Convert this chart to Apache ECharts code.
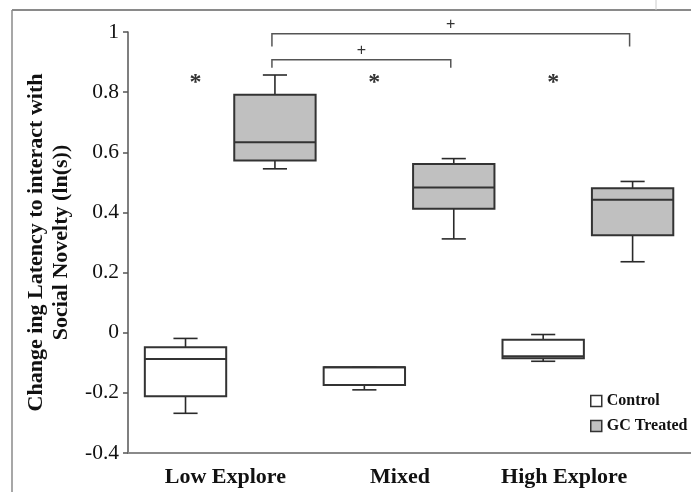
<!DOCTYPE html>
<html><head><meta charset="utf-8">
<script src="https://cdn.jsdelivr.net/npm/echarts@6/dist/echarts.min.js"></script>
<style>html,body{margin:0;padding:0;background:#fff}#c{width:691px;height:492px}</style>
</head><body><div id="c"></div>
<script>
// ---- data ----
const categories = ['Low Explore', 'Mixed', 'High Explore'];
const seriesNames = ['Control', 'GC Treated'];
// each box: [min, Q1, median, Q3, max]
const controlBoxes = [
  [-0.268, -0.211, -0.087, -0.048, -0.019],
  [-0.190, -0.174, -0.115, -0.115, -0.115],
  [-0.095, -0.085, -0.078, -0.023, -0.006]
];
const gcBoxes = [
  [0.545, 0.573, 0.633, 0.791, 0.857],
  [0.312, 0.412, 0.483, 0.561, 0.579],
  [0.236, 0.324, 0.442, 0.480, 0.503]
];
const asteriskLevels = [0.83, 0.83, 0.83];
const asteriskText = ['*', '*', '*'];
const bracketStart = [0, 0];
const bracketEnd = [2, 1];
const bracketLevel = [0.994, 0.908];
const bracketDrop = [0.952, 0.881];
const bracketMark = ['+', '+'];
const yMin = -0.4, yMax = 1, yStep = 0.2;

const SERIF = 'Liberation Serif';
const chart = echarts.init(document.getElementById('c'));

// shift: fraction of the category band by which a group is moved right
function boxRender(fill, stroke, shift) {
  return function (params, api) {
    const cat = api.value(0);
    const lo = api.coord([cat, api.value(1)]);
    const q1 = api.coord([cat, api.value(2)]);
    const med = api.coord([cat, api.value(3)]);
    const q3 = api.coord([cat, api.value(4)]);
    const hi = api.coord([cat, api.value(5)]);
    const band = api.size([1, 0])[0];
    const bw = band * 0.455, cw = band * 0.135;
    const x = lo[0] + band * shift;
    const ws = { stroke: '#2a2a2a', lineWidth: 1.6, fill: null };
    const bs = { stroke: stroke, lineWidth: 2, fill: null };
    return { type: 'group', children: [
      { type: 'line', shape: { x1: x, y1: hi[1], x2: x, y2: q3[1] }, style: ws },
      { type: 'line', shape: { x1: x, y1: q1[1], x2: x, y2: lo[1] }, style: ws },
      { type: 'line', shape: { x1: x - cw / 2, y1: hi[1], x2: x + cw / 2, y2: hi[1] }, style: ws },
      { type: 'line', shape: { x1: x - cw / 2, y1: lo[1], x2: x + cw / 2, y2: lo[1] }, style: ws },
      { type: 'rect', shape: { x: x - bw / 2, y: q3[1], width: bw, height: q1[1] - q3[1] }, style: { fill: fill, stroke: stroke, lineWidth: 2 } },
      { type: 'line', shape: { x1: x - bw / 2, y1: med[1], x2: x + bw / 2, y2: med[1] }, style: bs }
    ] };
  };
}

const gridTop = 32, gridBottom = 39;

const option = {
  animation: false,
  backgroundColor: '#fff',
  grid: [
    { left: 128, right: 0, top: gridTop, bottom: gridBottom },
    { left: 96.1, width: 536.5, top: gridTop, bottom: gridBottom }
  ],
  xAxis: [
    { gridIndex: 0, type: 'category', data: categories, boundaryGap: true,
      axisLine: { show: true, onZero: false, lineStyle: { color: '#8a8a8a', width: 2 } },
      axisTick: { show: false },
      axisLabel: {
        interval: 0, hideOverlap: false,
        margin: 13, color: '#111', fontFamily: SERIF, fontWeight: 'bold', fontSize: 22,
        formatter: function (v, i) { return '{c' + i + '|' + v + '}'; },
        rich: {
          c0: { fontFamily: SERIF, fontWeight: 'bold', fontSize: 22, color: '#111', padding: [0, 0, 0, 7] },
          c1: { fontFamily: SERIF, fontWeight: 'bold', fontSize: 22, color: '#111', padding: [0, 19, 0, 0] },
          c2: { fontFamily: SERIF, fontWeight: 'bold', fontSize: 22, color: '#111', padding: [0, 66, 0, 0] }
        }
      },
      splitLine: { show: false } },
    { gridIndex: 1, type: 'category', data: categories, show: false, boundaryGap: true }
  ],
  yAxis: [
    { gridIndex: 0, type: 'value', min: yMin, max: yMax, interval: yStep,
      axisLine: { show: true, lineStyle: { color: '#555', width: 1.5 } },
      axisTick: { show: true, length: 5, lineStyle: { color: '#555', width: 1.5 } },
      axisLabel: { margin: 9, color: '#111', fontFamily: SERIF, fontSize: 21.5 },
      splitLine: { show: false },
      name: 'Change ing Latency to interact with\nSocial Novelty (ln(s))',
      nameLocation: 'middle', nameRotate: 90, nameGap: 53,
      nameTextStyle: { fontFamily: SERIF, fontWeight: 'bold', fontSize: 22, lineHeight: 25, color: '#111' } },
    { gridIndex: 1, type: 'value', min: yMin, max: yMax, interval: yStep, show: false }
  ],
  legend: {
    orient: 'vertical', left: 590, top: 393, padding: 0,
    itemWidth: 11, itemHeight: 11, itemGap: 9,
    textStyle: { fontFamily: SERIF, fontWeight: 'bold', fontSize: 16, color: '#111' },
    data: [
      { name: seriesNames[0], icon: 'rect', itemStyle: { color: '#fff', borderColor: '#333', borderWidth: 1.5 } },
      { name: seriesNames[1], icon: 'rect', itemStyle: { color: '#c0c0c0', borderColor: '#333', borderWidth: 1.5 } }
    ]
  },
  series: [
    { name: seriesNames[0], type: 'custom', xAxisIndex: 1, yAxisIndex: 1,
      itemStyle: { color: '#fff', borderColor: '#333' },
      encode: { x: 0, y: [1, 2, 3, 4, 5] },
      renderItem: boxRender('#ffffff', '#333', 0),
      data: controlBoxes.map(function (b, i) { return [i].concat(b); }) },
    { name: seriesNames[1], type: 'custom', xAxisIndex: 1, yAxisIndex: 1,
      itemStyle: { color: '#c0c0c0', borderColor: '#333' },
      encode: { x: 0, y: [1, 2, 3, 4, 5] },
      renderItem: boxRender('#c0c0c0', '#333', 0.5),
      data: gcBoxes.map(function (b, i) { return [i].concat(b); }) },
    { name: 'asterisks', type: 'custom', xAxisIndex: 1, yAxisIndex: 1, silent: true,
      encode: { x: 0, y: 1 },
      renderItem: function (params, api) {
        const p = api.coord([api.value(0), api.value(1)]);
        return { type: 'text', x: p[0] + 10, y: p[1],
          style: { text: asteriskText[params.dataIndex], fill: '#333', font: 'bold 24px "Liberation Serif"', align: 'center', verticalAlign: 'middle' } };
      },
      data: asteriskLevels.map(function (v, i) { return [i, v]; }) },
    { name: 'brackets', type: 'custom', xAxisIndex: 1, yAxisIndex: 1, silent: true,
      encode: { x: [0, 1], y: [2, 3] },
      renderItem: function (params, api) {
        const band = api.size([1, 0])[0];
        const sx = band * 0.5 - 3;
        const a = api.coord([api.value(0), api.value(2)]);
        const b = api.coord([api.value(1), api.value(2)]);
        const d = api.coord([api.value(0), api.value(3)]);
        return { type: 'group', children: [
          { type: 'polyline', shape: { points: [[a[0] + sx, d[1]], [a[0] + sx, a[1]], [b[0] + sx, a[1]], [b[0] + sx, d[1]]] },
            style: { stroke: '#555', lineWidth: 1.5, fill: null } },
          { type: 'text', x: (a[0] + b[0]) / 2 + sx, y: a[1] - 9,
            style: { text: bracketMark[params.dataIndex], fill: '#333', font: '16px "Liberation Sans"', align: 'center', verticalAlign: 'middle' } }
        ] };
      },
      data: bracketStart.map(function (s, i) { return [s, bracketEnd[i], bracketLevel[i], bracketDrop[i]]; }) }
  ],
  graphic: [
    { type: 'line', shape: { x1: 12, y1: 10, x2: 691, y2: 10 }, style: { stroke: '#8a8a8a', lineWidth: 2 }, silent: true },
    { type: 'line', shape: { x1: 12, y1: 10, x2: 12, y2: 492 }, style: { stroke: '#8a8a8a', lineWidth: 1.5 }, silent: true },
    { type: 'line', shape: { x1: 656, y1: 0, x2: 656, y2: 10 }, style: { stroke: '#cccccc', lineWidth: 1 }, silent: true }
  ]
};
chart.setOption(option);
</script></body></html>
